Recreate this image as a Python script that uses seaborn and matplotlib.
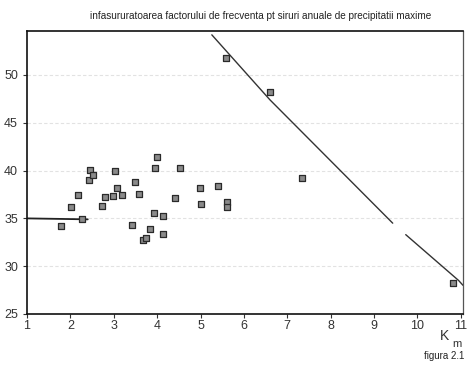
import matplotlib
matplotlib.use("Agg")
import matplotlib.pyplot as plt
import pandas as pd
import seaborn as sns

# Data
km = [1.78, 2.01, 2.18, 2.27, 2.43, 2.45, 2.52, 2.73, 2.80, 2.98, 3.03, 3.07, 3.19,
      3.42, 3.49, 3.58, 3.67, 3.74, 3.83, 3.93, 3.95, 4.00, 4.13, 4.13, 4.41, 4.53,
      4.99, 5.01, 5.40, 5.61, 5.61, 5.59, 6.60, 7.34, 10.82]
precip = [34.2, 36.2, 37.4, 34.9, 39.0, 40.1, 39.5, 36.3, 37.2, 37.3, 40.0, 38.2, 37.4,
          34.3, 38.8, 37.6, 32.7, 32.9, 33.9, 35.6, 40.3, 41.4, 35.3, 33.4, 37.1, 40.3,
          38.2, 36.5, 38.4, 36.7, 36.2, 51.8, 48.2, 39.2, 28.2]

# envelope curve (two pieces, gap in the scan)
env1_x = [5.26, 6.60, 9.43]
env1_y = [54.2, 47.4, 34.5]
env2_x = [9.73, 10.95, 11.05]
env2_y = [33.3, 28.5, 28.0]

# short stub at 35 on the left
stub_x = [1.0, 2.4]
stub_y = [35.0, 34.9]

xticks = list(range(1, 12))
yticks = [25, 30, 35, 40, 45, 50]

sns.set_style("white")
plt.rcParams['font.family'] = ['Liberation Sans', 'DejaVu Sans']

fig = plt.figure(figsize=(4.69, 3.66), dpi=100)
ax = fig.add_axes([27 / 469, 1 - 314 / 366, (463 - 27) / 469, (314 - 31) / 366])

for yv in yticks[1:]:
    ax.axhline(yv, color='#e2e2e2', lw=0.8, ls=(0, (3, 2)), zorder=0)

df = pd.DataFrame({'km': km, 'p': precip})
sns.scatterplot(data=df, x='km', y='p', ax=ax, marker='s', s=15,
                color='#8a8a8a', edgecolor='#2a2a2a', linewidth=0.9, zorder=3)

sns.lineplot(x=env1_x, y=env1_y, ax=ax, color='#333333', lw=1.0, estimator=None, sort=False)
sns.lineplot(x=env2_x, y=env2_y, ax=ax, color='#333333', lw=1.0, estimator=None, sort=False)
sns.lineplot(x=stub_x, y=stub_y, ax=ax, color='#222222', lw=1.3, estimator=None, sort=False)

ax.set_xlim(1, 11.05)
ax.set_ylim(25, 54.6)
ax.set_xticks(xticks)
ax.set_yticks(yticks)
ax.tick_params(axis='both', labelsize=9, colors='#333333', length=3, width=0.8,
               direction='out', left=True, bottom=True)
ax.tick_params(axis='x', pad=1)
for sp in ax.spines.values():
    sp.set_color('#111111')
    sp.set_linewidth(1.2)
ax.spines['right'].set_color('#555555')
ax.spines['right'].set_linewidth(0.9)
ax.set_xlabel('')
ax.set_ylabel('')

fig.text(0.555, 0.957, 'infasururatoarea factorului de frecventa pt siruri anuale de precipitatii maxime',
         ha='center', va='center', fontsize=7.2, color='#222222')
fig.text(440 / 469, 1 - 336 / 366, 'K', ha='left', va='center', fontsize=10, color='#333333')
fig.text(452 / 469, 1 - 344 / 366, 'm', ha='left', va='center', fontsize=8, color='#333333')
fig.text(444 / 469, 1 - 356 / 366, 'figura 2.1', ha='center', va='center', fontsize=7, color='#222222')

fig.savefig('out.png', dpi=100)
